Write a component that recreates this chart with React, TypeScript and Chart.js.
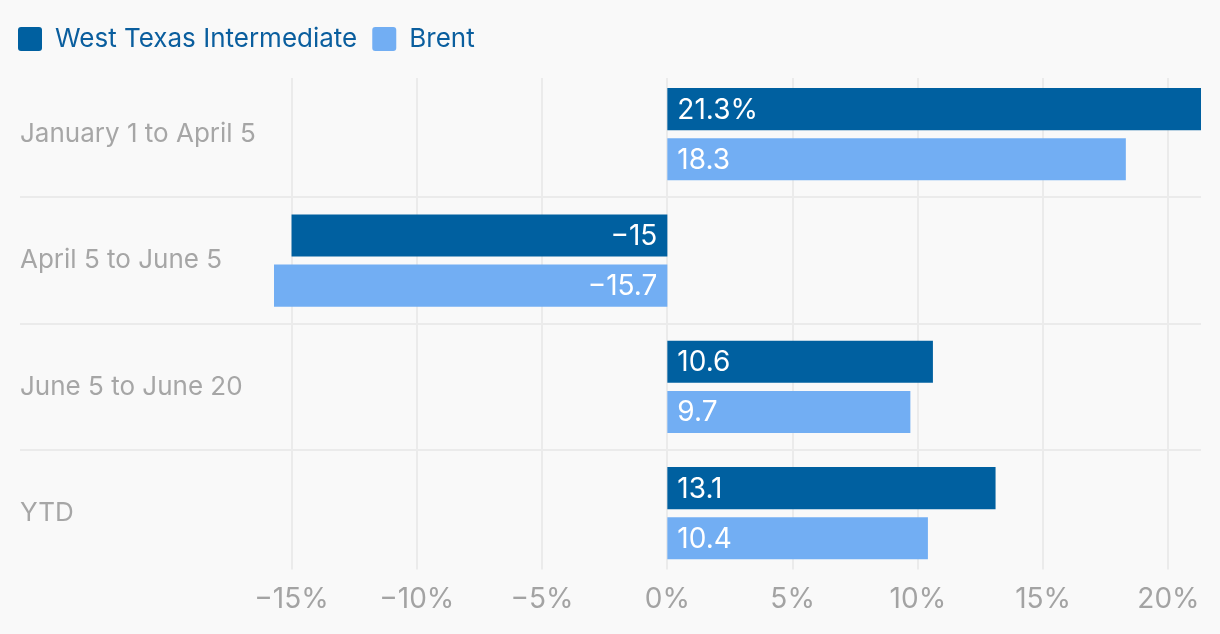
import React, { useEffect, useRef } from 'react';
import { Chart, registerables } from 'chart.js';

Chart.register(...registerables);

const categories = ['January 1 to April 5', 'April 5 to June 5', 'June 5 to June 20', 'YTD'];
const seriesNames = ['West Texas Intermediate', 'Brent'];
const wtiValues = [21.3, -15, 10.6, 13.1];
const brentValues = [18.3, -15.7, 9.7, 10.4];
const xTickValues = [-15, -10, -5, 0, 5, 10, 15, 20];

const WTI_COLOR = '#0060a0';
const BRENT_COLOR = '#72aef3';
const GRID_COLOR = '#ebebeb';
const FONT = 'Inter, "Noto Sans", sans-serif';

const fmt = (v: number) => String(v).replace('-', '\u2212');

const layoutPlugin = {
  id: 'layoutTweaks',
  beforeUpdate(chart: any) {
    const lg = chart.legend;
    if (lg && !lg.__patched) {
      const orig = lg.fit;
      lg.fit = function () {
        orig.call(this);
        this.height += 9;
      };
      lg.__patched = true;
    }
  },
  afterLayout(chart: any) {
    const lg = chart.legend;
    if (lg) {
      lg.left -= 17;
      lg.right -= 17;
    }
  },
};

const gridPlugin = {
  id: 'customGrid',
  beforeDatasetsDraw(chart: any) {
    const { ctx, chartArea, scales } = chart;
    const x = scales.x;
    const y = scales.y;
    ctx.save();
    ctx.strokeStyle = GRID_COLOR;
    ctx.lineWidth = 2;
    xTickValues.forEach((v) => {
      const px = Math.round(x.getPixelForValue(v));
      ctx.beginPath();
      ctx.moveTo(px, chartArea.top + 7);
      ctx.lineTo(px, chartArea.bottom - 7);
      ctx.stroke();
    });
    for (let i = 1; i < categories.length; i++) {
      const py = Math.round((y.getPixelForValue(i - 1) + y.getPixelForValue(i)) / 2);
      ctx.beginPath();
      ctx.moveTo(20, py);
      ctx.lineTo(chartArea.right, py);
      ctx.stroke();
    }
    ctx.restore();
  },
};

const barLabelPlugin = {
  id: 'barLabels',
  afterDatasetsDraw(chart: any) {
    const { ctx } = chart;
    ctx.save();
    ctx.font = `28px ${FONT}`;
    ctx.fillStyle = '#ffffff';
    ctx.textBaseline = 'middle';
    chart.data.datasets.forEach((ds: any, di: number) => {
      const meta = chart.getDatasetMeta(di);
      meta.data.forEach((bar: any, i: number) => {
        const v = ds.data[i];
        let text = fmt(v);
        if (di === 0 && i === 0) text += '%';
        if (v >= 0) {
          ctx.textAlign = 'left';
          ctx.fillText(text, bar.base + 10, bar.y + 1);
        } else {
          ctx.textAlign = 'right';
          ctx.fillText(text, bar.base - 10, bar.y + 1);
        }
      });
    });
    ctx.restore();
  },
};

export default function App() {
  const canvasRef = useRef<HTMLCanvasElement | null>(null);

  useEffect(() => {
    document.body.style.margin = '0';
    document.body.style.background = '#f9f9f9';
    const canvas = canvasRef.current;
    if (!canvas) return;
    const all = [...wtiValues, ...brentValues];
    const chart = new Chart(canvas, {
      type: 'bar',
      data: {
        labels: categories,
        datasets: [
          {
            label: seriesNames[0],
            data: wtiValues,
            backgroundColor: WTI_COLOR,
            barPercentage: 0.84,
            categoryPercentage: 100 / 126,
          },
          {
            label: seriesNames[1],
            data: brentValues,
            backgroundColor: BRENT_COLOR,
            barPercentage: 0.84,
            categoryPercentage: 100 / 126,
          },
        ],
      },
      options: {
        indexAxis: 'y',
        animation: false,
        responsive: true,
        maintainAspectRatio: false,
        layout: { padding: { left: 20, right: 19, top: 11, bottom: 12 } },
        font: { family: FONT },
        plugins: {
          tooltip: { enabled: false },
          legend: {
            position: 'top',
            align: 'start',
            labels: {
              boxWidth: 24,
              boxHeight: 24,
              padding: 15,
              useBorderRadius: true,
              borderRadius: 3,
              color: '#0a5e9e',
              font: { family: FONT, size: 26 },
            },
          },
        },
        scales: {
          x: {
            type: 'linear',
            min: Math.min(...all),
            max: Math.max(...all),
            afterBuildTicks: (s: any) => {
              s.ticks = xTickValues.map((v) => ({ value: v }));
            },
            grid: { display: false, drawTicks: false },
            border: { display: false },
            ticks: {
              autoSkip: false,
              maxRotation: 0,
              padding: 6,
              color: '#a3a3a3',
              font: { family: FONT, size: 28 },
              callback: (v: any) => fmt(Number(v)) + '%',
            },
          },
          y: {
            type: 'category',
            grid: { display: false, drawTicks: false },
            border: { display: false },
            afterFit: (s: any) => {
              s.width = 254;
            },
            ticks: {
              crossAlign: 'far',
              color: '#a6a6a6',
              font: { family: FONT, size: 26 },
            },
          },
        },
      },
      plugins: [layoutPlugin, gridPlugin, barLabelPlugin],
    } as any);
    return () => chart.destroy();
  }, []);

  return (
    <div style={{ width: 1220, height: 634, position: 'relative', background: '#f9f9f9' }}>
      <canvas ref={canvasRef} />
    </div>
  );
}
